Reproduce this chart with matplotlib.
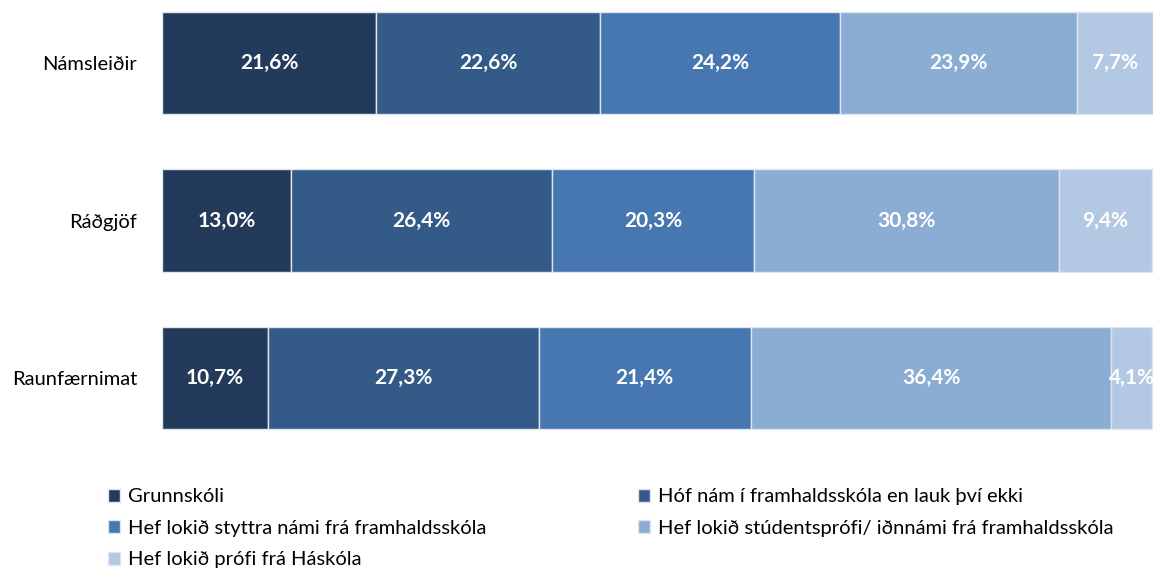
#!/usr/bin/env python3
import matplotlib
matplotlib.use("Agg")
import matplotlib.pyplot as plt
import numpy as np

plt.rcParams['font.family'] = ['Lato', 'DejaVu Sans']
myFontSize = 14.5

categories = ["Námsleiðir", "Ráðgjöf", "Raunfærnimat"]
series_names = [
    "Grunnskóli",
    "Hóf nám í framhaldsskóla en lauk því ekki",
    "Hef lokið styttra námi frá framhaldsskóla",
    "Hef lokið stúdentsprófi/ iðnnámi frá framhaldsskóla",
    "Hef lokið prófi frá Háskóla",
]
grunnskoli = [21.6, 13.0, 10.7]
hof_nam = [22.6, 26.4, 27.3]
styttra = [24.2, 20.3, 21.4]
studentsprof = [23.9, 30.8, 36.4]
haskoli = [7.7, 9.4, 4.1]
values = [grunnskoli, hof_nam, styttra, studentsprof, haskoli]
colors = ["#243a5a", "#345a87", "#4677b0", "#8badd4", "#b3c8e2"]

fig = plt.figure(figsize=(11.55, 5.68), dpi=100)
ax = fig.add_axes([0.1403, 0.2095, 0.858, 0.7764])

y = np.arange(len(categories))
left = np.zeros(len(categories))
bars = []
for name, vals, col in zip(series_names, values, colors):
    vals = np.array(vals)
    b = ax.barh(y, vals, left=left, height=0.65, color=col,
                edgecolor="#dde6f0", linewidth=1.0, label=name)
    bars.append(b)
    for yi, v, l in zip(y, vals, left):
        ax.text(l + v / 2, yi, f"{v:.1f}%".replace(".", ","),
                ha="center", va="center", color="white",
                fontsize=myFontSize + 0.5, fontweight="bold", clip_on=False)
    left = left + vals

ax.set_xlim(0, 100)
ax.set_ylim(2.45, -0.35)
ax.set_yticks(y)
ax.set_yticklabels(categories, fontsize=myFontSize)
ax.set_xticks([])
ax.tick_params(axis="y", length=0, pad=18)
for s in ax.spines.values():
    s.set_visible(False)

order = [0, 2, 4, 1, 3]
fig.legend([bars[i] for i in order], [series_names[i] for i in order],
           ncol=2, loc="upper left", bbox_to_anchor=(0.085, 0.158),
           frameon=False, fontsize=myFontSize, handlelength=0.6,
           handleheight=0.6, handletextpad=0.4, labelspacing=0.72,
           columnspacing=7.5, borderpad=0)

fig.savefig("out.png", dpi=100)
